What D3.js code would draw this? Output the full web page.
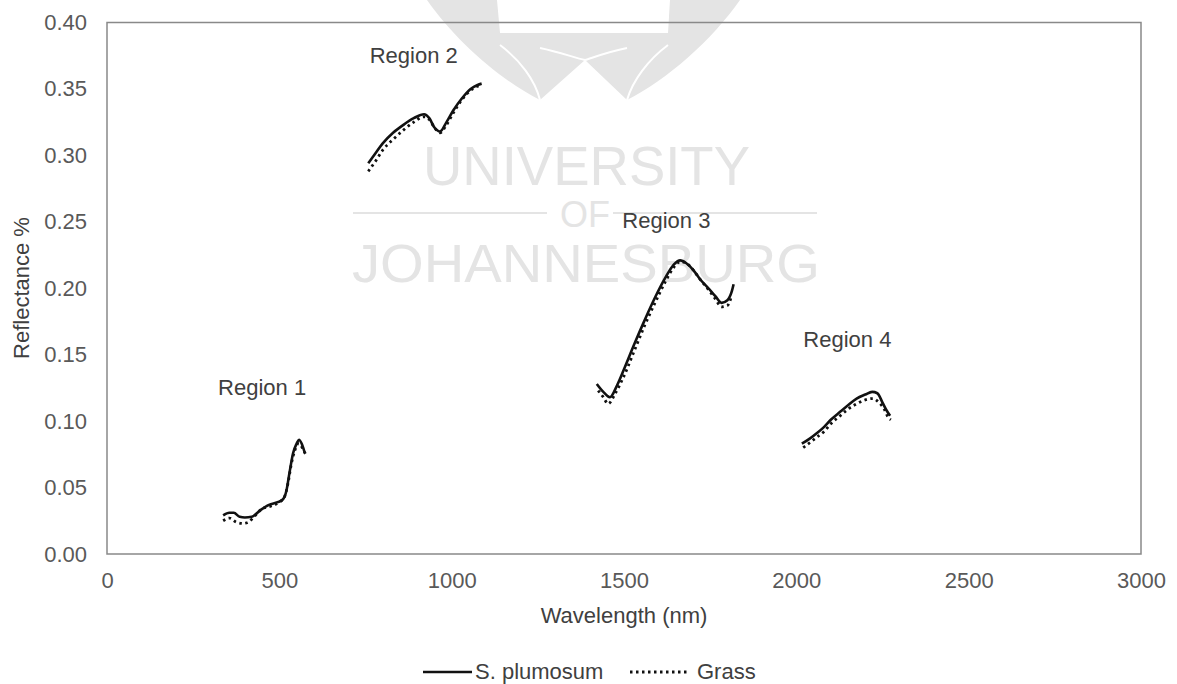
<!DOCTYPE html>
<html>
<head>
<meta charset="utf-8">
<script src="https://cdn.jsdelivr.net/npm/d3@7"></script>
<style>
  html, body { margin: 0; padding: 0; background: #fff; }
  svg { display: block; }
  text { font-family: "Liberation Sans", Arial, sans-serif; }
</style>
</head>
<body>
<svg id="chart" width="1177" height="684"></svg>
<script>
// Reflectance spectra of S. plumosum and grass over four wavelength regions
const regionNames = ["Region 1", "Region 2", "Region 3", "Region 4"];

// Region 1
const wl1 = [337, 355, 368, 385, 400, 420, 445, 470, 495, 510, 520, 530, 540, 550, 557, 565, 574];
const plum1 = [0.029, 0.031, 0.031, 0.028, 0.0275, 0.028, 0.033, 0.037, 0.039, 0.041, 0.047, 0.062, 0.076, 0.083, 0.086, 0.083, 0.076];
const wl1g = [337, 355, 375, 395, 410, 430, 450, 475, 500, 515, 525, 535, 545, 555, 562, 570, 579];
const grass1 = [0.025, 0.027, 0.024, 0.023, 0.024, 0.029, 0.034, 0.036, 0.039, 0.043, 0.053, 0.068, 0.078, 0.083, 0.082, 0.078, 0.074];

// Region 2
const wl2 = [758, 780, 800, 830, 860, 890, 920, 935, 950, 966, 985, 1005, 1030, 1055, 1075, 1087];
const plum2 = [0.294, 0.302, 0.309, 0.317, 0.323, 0.328, 0.331, 0.328, 0.321, 0.318, 0.325, 0.334, 0.343, 0.350, 0.353, 0.354];
const grass2 = [0.288, 0.296, 0.304, 0.312, 0.319, 0.325, 0.329, 0.327, 0.321, 0.317, 0.323, 0.332, 0.342, 0.349, 0.352, 0.353];

// Region 3
const wl3 = [1421, 1440, 1459, 1480, 1500, 1530, 1560, 1590, 1620, 1645, 1663, 1680, 1700, 1720, 1745, 1765, 1783, 1800, 1812, 1818];
const plum3 = [0.128, 0.122, 0.118, 0.127, 0.139, 0.158, 0.176, 0.193, 0.208, 0.218, 0.221, 0.219, 0.214, 0.207, 0.200, 0.194, 0.189, 0.191, 0.197, 0.203];
const wl3g = [1425, 1440, 1454, 1475, 1500, 1530, 1560, 1590, 1620, 1645, 1663, 1680, 1700, 1720, 1745, 1765, 1783, 1800, 1813];
const grass3 = [0.123, 0.118, 0.113, 0.121, 0.134, 0.153, 0.172, 0.189, 0.205, 0.216, 0.220, 0.219, 0.214, 0.207, 0.199, 0.192, 0.186, 0.187, 0.195];

// Region 4
const wl4 = [2016, 2040, 2060, 2080, 2100, 2127, 2150, 2175, 2200, 2220, 2235, 2250, 2262, 2272];
const plum4 = [0.083, 0.087, 0.091, 0.0955, 0.101, 0.107, 0.112, 0.117, 0.120, 0.122, 0.121, 0.114, 0.108, 0.104];
const wl4g = [2020, 2040, 2060, 2080, 2100, 2127, 2150, 2175, 2200, 2222, 2240, 2255, 2266, 2274];
const grass4 = [0.080, 0.084, 0.088, 0.092, 0.098, 0.104, 0.109, 0.113, 0.116, 0.117, 0.114, 0.109, 0.103, 0.101];

// Region label anchors (wavelength, reflectance)
const labelWl = [450, 890, 1623, 2148];
const labelVal = [0.1195, 0.3695, 0.2455, 0.1555];

const xTicks = [0, 500, 1000, 1500, 2000, 2500, 3000];
const yTicks = [0, 0.05, 0.10, 0.15, 0.20, 0.25, 0.30, 0.35, 0.40];

const svg = d3.select("#chart");
const W = 1177, H = 684;
const plot = { left: 107, right: 1141, top: 22.5, bottom: 554 };

svg.append("rect").attr("width", W).attr("height", H).attr("fill", "#fff");

const x = d3.scaleLinear().domain([0, 3000]).range([plot.left, plot.right]);
const y = d3.scaleLinear().domain([0, 0.4]).range([plot.bottom, plot.top]);

// Faint university watermark behind the data
const wm = svg.append("g").attr("fill", "#e4e4e4");
wm.append("path")
  .attr("d", "M427,0 C455,40 500,80 540,100 L585,60 L627,100 C667,80 712,40 740,0 Z");
wm.append("path").attr("fill", "#fff")
  .attr("d", "M497,0 L500,33 L668,33 L670,0 Z");
wm.append("path").attr("fill", "none").attr("stroke", "#fff").attr("stroke-width", 2)
  .attr("d", "M500,45 C520,60 535,80 540,100 M668,45 C648,60 633,80 627,100 M540,48 C560,52 575,58 585,60 M627,48 C607,52 592,58 585,60");
wm.append("text").attr("x", 423).attr("y", 185).attr("font-family", "Lato, sans-serif").attr("font-weight", 300)
  .attr("font-size", 56).attr("textLength", 327).attr("lengthAdjust", "spacingAndGlyphs").text("UNIVERSITY");
wm.append("text").attr("x", 560).attr("y", 227).attr("font-family", "Lato, sans-serif").attr("font-weight", 300)
  .attr("font-size", 37).attr("textLength", 50).attr("lengthAdjust", "spacingAndGlyphs").text("OF");
wm.append("text").attr("x", 352).attr("y", 282).attr("font-family", "Lato, sans-serif").attr("font-weight", 300)
  .attr("font-size", 54).attr("textLength", 468).attr("lengthAdjust", "spacingAndGlyphs").text("JOHANNESBURG");
wm.append("rect").attr("x", 353).attr("y", 212).attr("width", 194).attr("height", 2);
wm.append("rect").attr("x", 613).attr("y", 212).attr("width", 204).attr("height", 2);

// Plot area frame
svg.append("rect")
  .attr("x", plot.left).attr("y", plot.top)
  .attr("width", plot.right - plot.left).attr("height", plot.bottom - plot.top)
  .attr("fill", "none").attr("stroke", "#898989").attr("stroke-width", 1.5);

// Axes
const xAxis = svg.append("g")
  .attr("transform", `translate(0,${plot.bottom})`)
  .call(d3.axisBottom(x).tickValues(xTicks).tickSize(0).tickPadding(18).tickFormat(d3.format("d")));
const yAxis = svg.append("g")
  .attr("transform", `translate(${plot.left},0)`)
  .call(d3.axisLeft(y).tickValues(yTicks).tickSize(0).tickPadding(20).tickFormat(d3.format(".2f")));
[xAxis, yAxis].forEach(g => {
  g.select(".domain").remove();
  g.selectAll("text").attr("font-family", "'Liberation Sans', Arial, sans-serif")
    .attr("font-size", 22).attr("fill", "#595959");
});

// Axis titles
svg.append("text").attr("x", 624).attr("y", 623).attr("text-anchor", "middle")
  .attr("font-size", 22).attr("fill", "#404040").text("Wavelength (nm)");
svg.append("text").attr("transform", "translate(29,288) rotate(-90)").attr("text-anchor", "middle")
  .attr("font-size", 22).attr("fill", "#404040").text("Reflectance %");

// Spectra
const line = d3.line().x(d => x(d[0])).y(d => y(d[1])).curve(d3.curveMonotoneX);
const plumSets = [[wl1, plum1], [wl2, plum2], [wl3, plum3], [wl4, plum4]];
const grassSets = [[wl1g, grass1], [wl2, grass2], [wl3g, grass3], [wl4g, grass4]];

const gData = svg.append("g");
grassSets.forEach(([w, v]) => {
  gData.append("path").datum(d3.zip(w, v)).attr("d", line)
    .attr("fill", "none").attr("stroke", "#111").attr("stroke-width", 2.8)
    .attr("stroke-dasharray", "2.5 3.5");
});
plumSets.forEach(([w, v]) => {
  gData.append("path").datum(d3.zip(w, v)).attr("d", line)
    .attr("fill", "none").attr("stroke", "#111").attr("stroke-width", 2.6)
    .attr("stroke-linejoin", "round");
});

// Region labels
regionNames.forEach((name, i) => {
  svg.append("text").attr("x", x(labelWl[i])).attr("y", y(labelVal[i]))
    .attr("text-anchor", "middle").attr("font-size", 22).attr("fill", "#404040").text(name);
});

// Legend
const lg = svg.append("g");
lg.append("line").attr("x1", 423).attr("x2", 472).attr("y1", 672).attr("y2", 672)
  .attr("stroke", "#111").attr("stroke-width", 2.6);
lg.append("text").attr("x", 475).attr("y", 679).attr("font-size", 22).attr("fill", "#404040").text("S. plumosum");
lg.append("line").attr("x1", 630).attr("x2", 690).attr("y1", 672).attr("y2", 672)
  .attr("stroke", "#111").attr("stroke-width", 2.8).attr("stroke-dasharray", "2.5 3.5");
lg.append("text").attr("x", 697).attr("y", 679).attr("font-size", 22).attr("fill", "#404040").text("Grass");
</script>
</body>
</html>
